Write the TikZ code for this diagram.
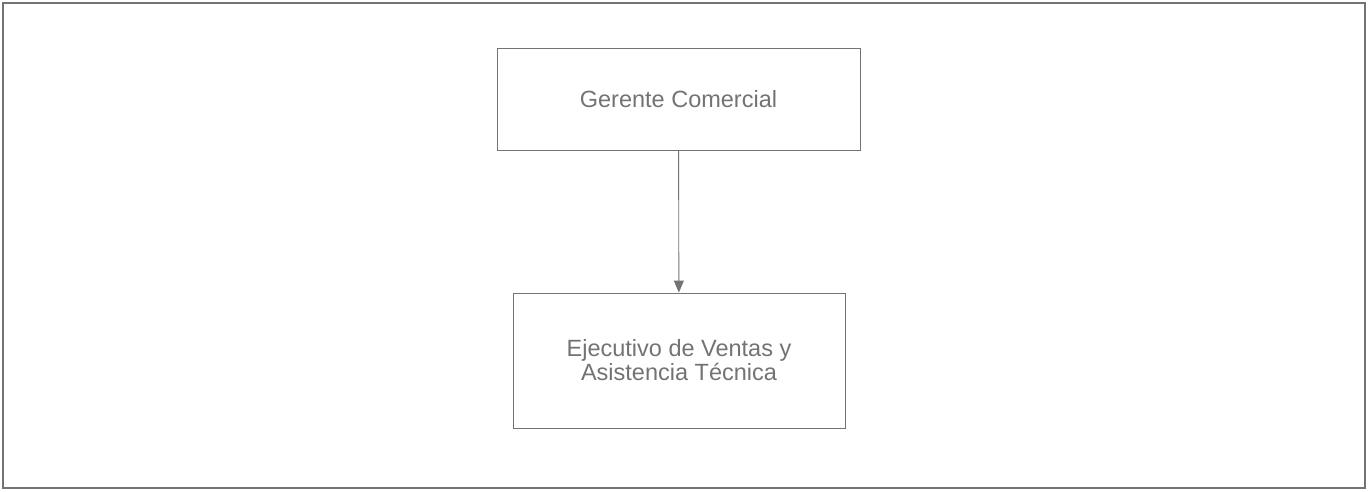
\documentclass[tikz,border=0pt]{standalone}
\usepackage{fontspec}
\setmainfont{Liberation Sans}
\usetikzlibrary{positioning,arrows.meta}

\begin{document}
\begin{tikzpicture}[x=1pt,y=-1pt]
  \useasboundingbox (0,0) rectangle (1369,491);
  \draw[black!55,line width=1.2pt] (3,3) rectangle (1365,488);
  \node[shape=rectangle,draw=black!55,line width=0.9pt,text=black!55,minimum width=363pt,minimum height=102pt,font=\fontsize{23.5}{24}\selectfont] (gerente) at (678.5,99) {Gerente Comercial};
  \node[shape=rectangle,draw=black!55,line width=0.9pt,text=black!55,minimum width=332pt,minimum height=135pt,align=center,font=\fontsize{23.5}{24}\selectfont] (ejecutivo) at (679,360.5) {Ejecutivo de Ventas y\\Asistencia Técnica};
  \path [-{Triangle[length=12pt,width=10pt]},draw=black!55,fill=black!55,line width=0.9pt](gerente) edge node[left] {} (ejecutivo);
\end{tikzpicture}
\end{document}
